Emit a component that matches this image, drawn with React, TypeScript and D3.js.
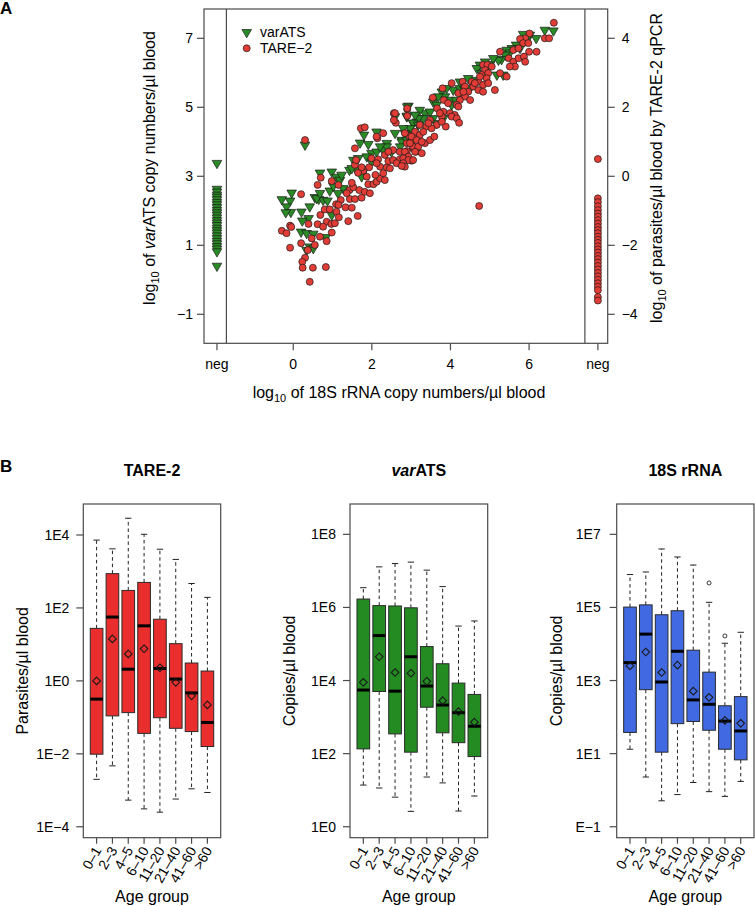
import React from "react";
import * as d3 from "d3";

// ---------- Panel A data (log10 values) ----------
// varATS points: [log10 18S rRNA, log10 varATS copies]
const varATSPoints: [number, number][] = [
  [0.30, 3.91], [-0.29, 2.33], [-0.08, 2.29], [-0.04, 2.52], [-0.17, 2.12], [-0.06, 1.96], [-0.19, 1.95],
  [0.21, 1.97], [0.42, 2.12], [0.55, 2.39], [0.65, 2.34], [0.76, 2.31], [0.87, 2.29], [0.39, 1.78],
  [0.23, 1.71], [0.20, 1.39], [0.34, 1.35], [0.51, 1.33], [0.42, 0.96], [0.51, 0.91], [0.83, 1.23],
  [0.68, 3.10], [0.98, 3.13], [0.93, 2.58], [1.10, 2.98], [1.19, 2.89], [1.27, 2.65], [1.14, 2.51],
  [0.98, 1.88], [1.43, 3.18], [1.53, 3.47], [1.61, 3.18], [1.74, 2.99], [1.82, 3.20], [1.70, 3.97],
  [1.91, 3.93], [1.80, 4.20], [2.12, 4.29], [2.38, 3.96], [1.99, 3.67], [2.12, 3.71], [2.29, 3.76],
  [2.38, 3.86], [2.59, 4.25], [2.76, 4.05], [2.89, 4.73], [2.93, 5.04], [2.59, 4.73], [3.05, 4.54],
  [3.14, 4.58], [2.50, 3.71], [1.87, 3.57], [0.60, 2.36], [0.34, 0.86],
  [2.21, 3.86], [1.99, 3.42], [1.65, 3.52], [1.49, 3.23], [1.23, 3.04], [1.02, 2.72], [0.68, 2.51],
  [6.40, 7.24], [6.62, 7.22], [6.18, 7.00], [6.02, 7.10], [5.85, 7.12], [5.94, 6.97], [5.67, 6.81],
  [5.56, 6.71], [5.43, 6.66], [5.51, 6.58], [5.39, 6.52], [5.30, 6.39], [5.22, 6.37], [5.77, 6.71],
  [5.01, 6.25], [4.75, 6.23], [4.67, 6.13], [4.92, 6.18], [4.79, 5.99], [5.18, 5.94], [5.34, 5.94],
  [4.58, 5.79], [4.45, 5.84], [4.07, 5.50], [4.24, 5.55], [4.37, 5.50], [4.50, 5.55], [4.28, 5.36],
  [3.78, 5.45], [3.86, 5.31], [3.99, 5.21], [4.14, 5.21], [3.56, 5.16], [3.65, 5.07], [4.03, 5.07],
  [2.90, 5.02], [2.89, 4.75], [3.35, 4.83], [3.48, 4.87], [3.31, 4.68], [3.56, 4.68], [3.82, 4.68],
  [3.18, 4.68], [3.05, 4.55], [3.18, 4.49], [2.97, 4.39], [2.84, 4.25], [2.95, 4.20], [2.76, 4.00],
  [2.89, 4.05], [2.72, 3.86], [3.65, 4.54],
  [4.24, 5.74], [3.90, 5.55], [3.69, 5.31], [3.22, 4.92], [3.10, 4.78], [2.80, 4.39], [4.88, 6.32],
  [5.09, 6.42],
];
// varATS positive, 18S negative (left "neg" column)
const varATSNeg: number[] = [
  3.38, 2.63, 2.55, 2.46, 2.40, 2.33, 2.25, 2.18, 2.10, 2.02, 1.95, 1.88, 1.80, 1.72, 1.65, 1.58,
  1.50, 1.43, 1.36, 1.28, 1.20, 1.12, 1.05, 0.97, 0.90, 0.82, 0.40,
];
// TARE-2 points: [log10 18S rRNA, log10 parasites/µl]
const tare2Points: [number, number][] = [
  [0.30, 1.05], [-0.29, -1.58], [-0.17, -1.65], [-0.08, -1.43], [-0.05, -1.47], [-0.08, -2.07],
  [0.20, -0.52], [0.20, -1.94], [0.30, -2.36], [0.23, -2.48], [0.24, -2.65], [0.50, -2.65],
  [0.83, -2.63], [0.42, -3.06], [0.37, -2.14], [0.47, -1.80], [0.55, -1.99], [0.39, -1.38],
  [0.62, -1.39], [0.68, -1.75], [0.85, -1.88], [0.98, -1.63], [0.69, -1.12], [0.80, -0.96],
  [0.93, -0.96], [0.85, -1.32], [0.97, -1.38], [1.06, -1.36], [1.10, -1.03], [1.09, -0.81],
  [1.21, -0.69], [1.16, -1.19], [1.40, -1.30], [1.64, -1.15], [1.33, -0.90], [1.49, -0.91],
  [0.62, -0.25], [0.70, -0.04], [0.98, -0.14], [1.15, -0.25], [1.44, -0.66], [1.57, -0.66],
  [1.74, -0.62], [1.43, -0.40], [1.53, -0.32], [1.68, -0.40], [1.82, -0.45], [1.95, -0.49],
  [1.91, -0.23], [2.04, -0.23], [2.12, -0.16], [2.21, -0.06], [2.33, -0.11], [2.09, 0.04],
  [2.29, 0.09], [2.21, 0.28], [2.38, 0.26], [2.46, 0.23], [1.78, 0.16], [1.65, 0.10], [1.57, 0.33],
  [1.74, 0.26], [1.93, 0.26], [1.99, 0.52], [2.16, 0.49], [2.33, 0.62], [2.42, 0.44], [2.54, 0.47],
  [2.71, 0.49], [2.63, 0.38], [2.80, 0.33], [2.93, 0.52], [3.01, 0.45], [2.54, 0.76], [2.71, 0.71],
  [2.89, 0.73], [3.05, 0.81], [3.12, 0.71], [3.01, 1.00], [3.14, 1.13], [2.95, 1.17], [2.84, 1.25],
  [2.56, 1.83], [2.61, 1.55], [2.90, 1.94], [1.72, 1.39], [1.82, 1.42], [2.14, 1.10], [1.57, 0.81],
  [1.60, 0.47], [1.49, -0.19],
  [2.89, 0.96], [2.42, 0.71], [2.12, 0.38], [1.87, -0.01], [1.36, -0.49], [1.15, -0.83], [0.76, -1.46],
  [6.63, 4.45], [6.40, 4.00], [6.51, 4.00], [6.01, 4.14], [5.90, 4.00], [5.77, 3.98], [5.85, 3.86],
  [5.98, 3.86], [5.60, 3.66], [5.73, 3.71], [6.00, 3.61], [6.19, 3.61], [5.26, 3.61], [5.48, 3.42],
  [5.60, 3.32], [5.73, 3.42], [5.87, 3.47], [5.90, 3.32], [5.64, 3.18], [5.51, 3.18], [5.26, 2.99],
  [5.43, 2.89], [4.83, 3.23], [4.94, 3.23], [5.05, 3.18], [4.88, 3.08], [4.96, 2.99], [4.79, 2.94],
  [4.92, 2.84], [4.71, 2.74], [4.83, 2.65], [4.54, 2.74], [4.58, 2.60], [4.71, 2.50], [4.83, 2.45],
  [5.13, 2.50], [4.31, 2.74], [4.37, 2.60], [4.45, 2.45], [4.20, 2.41], [4.37, 2.31], [4.50, 2.21],
  [4.24, 2.21], [4.16, 2.07], [4.03, 2.70], [3.80, 2.55], [3.83, 2.21], [3.55, 2.28], [3.66, 1.97],
  [3.82, 1.87], [3.78, 1.73], [3.99, 1.83], [4.11, 1.78], [4.20, 2.02], [2.90, 1.97], [2.90, 1.75],
  [3.48, 1.63], [3.65, 1.49], [3.88, 1.44], [4.03, 1.73], [4.16, 1.68], [4.22, 1.55], [3.22, 1.49],
  [3.39, 1.44], [3.52, 1.39], [3.78, 1.58], [3.10, 1.29], [3.22, 1.20], [3.01, 1.15], [3.14, 1.05],
  [3.35, 0.96], [3.48, 1.05], [3.59, 1.15], [3.05, 0.86], [3.18, 0.86], [3.10, 0.71], [3.27, 0.67],
  [2.84, 0.71], [2.93, 0.57], [2.80, 0.52], [2.93, 0.47], [3.05, 0.47], [2.80, 0.38], [2.84, 0.28],
  [2.76, 0.30], [2.12, 1.15], [2.29, 1.25], [2.59, 1.83], [2.56, 1.63], [4.73, -0.86],
  [4.75, 2.89], [4.62, 2.70], [4.96, 2.70], [4.33, 2.45], [3.94, 2.12], [3.73, 1.83], [3.44, 1.54],
  [3.31, 1.29], [2.97, 0.96], [3.27, 1.00],
];
// TARE-2 positive, 18S negative (right "neg" column)
const tare2Neg: number[] = [
  0.50, -0.64, -0.75, -0.87, -0.98, -1.08, -1.17, -1.27, -1.37, -1.47, -1.56, -1.65, -1.75, -1.84,
  -1.93, -2.03, -2.12, -2.21, -2.31, -2.40, -2.50, -2.60, -2.70, -2.80, -2.90, -3.00, -3.10, -3.20,
  -3.30, -3.50, -3.60,
];
const xTicksA = [0, 2, 4, 6];
const yTicksLeftA = [-1, 1, 3, 5, 7];
const yTicksRightA = [-4, -2, 0, 2, 4];

// ---------- Panel B data (log10): [whiskerLow, Q1, median, Q3, whiskerHigh, mean] ----------
const ageGroups = ["0–1", "2–3", "4–5", "6–10", "11–20", "21–40", "41–60", ">60"];
const tare2Box: number[][] = [
  [-2.70, -2.01, -0.50, 1.44, 3.86, 0.00],
  [-2.33, -0.96, 1.75, 2.94, 3.62, 1.15],
  [-3.27, -0.87, 0.32, 2.48, 4.46, 0.74],
  [-3.51, -1.44, 1.51, 2.70, 4.02, 0.88],
  [-3.60, -1.01, 0.34, 1.69, 3.61, 0.36],
  [-3.24, -1.30, 0.05, 1.02, 3.33, -0.04],
  [-2.96, -1.39, -0.33, 0.49, 2.67, -0.41],
  [-3.06, -1.80, -1.14, 0.27, 2.29, -0.66],
];
const varATSBox: number[][] = [
  [1.14, 2.13, 3.74, 6.23, 6.54, 3.95],
  [1.06, 3.70, 5.23, 6.05, 7.11, 4.65],
  [0.81, 2.54, 3.71, 6.04, 7.20, 4.22],
  [0.42, 2.04, 4.65, 5.99, 7.24, 4.20],
  [1.36, 3.27, 3.85, 4.93, 7.02, 3.98],
  [1.20, 2.57, 3.33, 4.46, 6.57, 3.45],
  [0.43, 2.30, 3.12, 3.93, 5.49, 3.15],
  [0.84, 1.92, 2.75, 3.62, 5.63, 2.86],
];
const rRNABox: number[][] = [
  [1.12, 1.58, 3.49, 5.01, 5.90, 3.40],
  [0.36, 2.75, 4.27, 5.07, 5.97, 3.78],
  [-0.29, 1.04, 2.96, 4.80, 6.60, 3.22],
  [-0.12, 1.82, 3.80, 4.91, 6.38, 3.42],
  [0.21, 1.88, 2.47, 3.83, 6.16, 2.71],
  [-0.04, 1.64, 2.35, 3.23, 5.14, 2.54],
  [-0.17, 1.12, 1.89, 2.31, 4.02, 1.91],
  [0.24, 0.83, 1.62, 2.56, 4.32, 1.83],
];
const rRNAOutliers: [number, number][] = [[5, 5.67], [6, 4.22]];
const tare2Ticks = [4, 2, 0, -2, -4];
const tare2TickLabels = ["1E4", "1E2", "1E0", "1E−2", "1E−4"];
const varATSTicks = [8, 6, 4, 2, 0];
const varATSTickLabels = ["1E8", "1E6", "1E4", "1E2", "1E0"];
const rRNATicks = [7, 5, 3, 1, -1];
const rRNATickLabels = ["1E7", "1E5", "1E3", "1E1", "E−1"];

const FONT = "'Liberation Sans', Arial, Helvetica, sans-serif";
const RED_PT = "#e23c36";
const GREEN_PT = "#2a8a25";
const FRAME = "#4a4a4a";

function ScatterA() {
  const L = 204, R = 607.7, T = 9, B = 343.3;
  const x = d3.scaleLinear().domain([-2.27, 8.0]).range([L, R]);
  const yL = d3.scaleLinear().domain([-1.841, 7.849]).range([B, T]);
  const yR = d3.scaleLinear().domain([-4.841, 4.849]).range([B, T]);
  const negL = -1.94, negR = 7.75, sepL = -1.70, sepR = 7.42;
  const tri = d3.symbol().type(d3.symbolTriangle).size(40)()!;
  const circR = 3.5;
  return (
    <g fontFamily={FONT}>
      <text x={0} y={13.5} fontSize={17} fontWeight="bold">A</text>
      {/* varATS first */}
      {varATSPoints.map((d, i) => (
        <path key={"v" + i} d={tri} transform={`translate(${x(d[0])},${yL(d[1])}) rotate(180)`}
          fill={GREEN_PT} stroke="#1a1a1a" strokeWidth={0.7} />
      ))}
      {varATSNeg.map((v, i) => (
        <path key={"vn" + i} d={tri} transform={`translate(${x(negL)},${yL(v)}) rotate(180)`}
          fill={GREEN_PT} stroke="#1a1a1a" strokeWidth={0.7} />
      ))}
      {tare2Points.map((d, i) => (
        <circle key={"t" + i} cx={x(d[0])} cy={yR(d[1])} r={circR} fill={RED_PT} stroke="#1a1a1a" strokeWidth={0.7} />
      ))}
      {tare2Neg.map((v, i) => (
        <circle key={"tn" + i} cx={x(negR)} cy={yR(v)} r={circR} fill={RED_PT} stroke="#1a1a1a" strokeWidth={0.7} />
      ))}
      {/* frame */}
      <rect x={L} y={T} width={R - L} height={B - T} fill="none" stroke={FRAME} strokeWidth={1.2} />
      <line x1={x(sepL)} x2={x(sepL)} y1={T} y2={B} stroke={FRAME} strokeWidth={1.2} />
      <line x1={x(sepR)} x2={x(sepR)} y1={T} y2={B} stroke={FRAME} strokeWidth={1.2} />
      {/* legend */}
      <path d={tri} transform={`translate(246.7,32.3) rotate(180)`} fill={GREEN_PT} stroke="#1a1a1a" strokeWidth={0.7} />
      <text x={260} y={37.3} fontSize={14}>varATS</text>
      <circle cx={246.7} cy={48.3} r={circR} fill={RED_PT} stroke="#1a1a1a" strokeWidth={0.7} />
      <text x={260} y={53.3} fontSize={14}>TARE−2</text>
      {/* x axis */}
      {[negL, ...xTicksA, negR].map((t, i) => (
        <g key={"xt" + i}>
          <line x1={x(t)} x2={x(t)} y1={B} y2={B + 7} stroke={FRAME} strokeWidth={1.2} />
          <text x={x(t)} y={368.5} fontSize={14} textAnchor="middle">
            {i === 0 || i === xTicksA.length + 1 ? "neg" : String(t)}
          </text>
        </g>
      ))}
      <text x={399} y={398} fontSize={16} textAnchor="middle">
        log<tspan fontSize={11} dy={4}>10</tspan><tspan dy={-4}> of 18S rRNA copy numbers/µl blood</tspan>
      </text>
      {/* left axis */}
      {yTicksLeftA.map((t) => (
        <g key={"yl" + t}>
          <line x1={L - 7} x2={L} y1={yL(t)} y2={yL(t)} stroke={FRAME} strokeWidth={1.2} />
          <text x={L - 11} y={yL(t)} dy="0.36em" fontSize={14} textAnchor="end">{t < 0 ? "−" + Math.abs(t) : t}</text>
        </g>
      ))}
      <text transform={`translate(155,168) rotate(-90)`} fontSize={16} textAnchor="middle">
        log<tspan fontSize={11} dy={4}>10</tspan><tspan dy={-4}> of </tspan><tspan fontStyle="italic">var</tspan>ATS copy numbers/µl blood
      </text>
      {/* right axis */}
      {yTicksRightA.map((t) => (
        <g key={"yr" + t}>
          <line x1={R} x2={R + 7} y1={yR(t)} y2={yR(t)} stroke={FRAME} strokeWidth={1.2} />
          <text x={R + 14} y={yR(t)} dy="0.36em" fontSize={14} textAnchor="start">{t < 0 ? "−" + Math.abs(t) : t}</text>
        </g>
      ))}
      <text transform={`translate(661.5,168) rotate(-90)`} fontSize={16} textAnchor="middle">
        log<tspan fontSize={11} dy={4}>10</tspan><tspan dy={-4}> of parasites/µl blood by TARE-2 qPCR</tspan>
      </text>
    </g>
  );
}

type BoxProps = {
  left: number; right: number; domain: [number, number];
  rows: number[][]; color: string; ticks: number[]; tickLabels: string[];
  title: React.ReactNode; ylabel: string; outliers?: [number, number][]; labelOffset: number;
};

function BoxPanel(p: BoxProps) {
  const T = 504, B = 837.7;
  const x = d3.scaleLinear().domain([0.16, 8.84]).range([p.left, p.right]);
  const y = d3.scaleLinear().domain(p.domain).range([B, T]);
  const unit = x(1) - x(0);
  const hw = 0.4 * unit;
  const sw = 0.2 * unit;
  const cx = (p.left + p.right) / 2;
  return (
    <g fontFamily={FONT}>
      <text x={cx} y={476} fontSize={16} fontWeight="bold" textAnchor="middle">{p.title}</text>
      {p.rows.map((r, i) => {
        const xc = x(i + 1);
        const [lo, q1, med, q3, hi, mean] = r;
        const m = 3.8;
        return (
          <g key={i}>
            <line x1={xc} x2={xc} y1={y(q3)} y2={y(hi)} stroke="#222" strokeDasharray="3.5,3" strokeWidth={1} />
            <line x1={xc} x2={xc} y1={y(q1)} y2={y(lo)} stroke="#222" strokeDasharray="3.5,3" strokeWidth={1} />
            <line x1={xc - sw} x2={xc + sw} y1={y(hi)} y2={y(hi)} stroke="#222" strokeWidth={1} />
            <line x1={xc - sw} x2={xc + sw} y1={y(lo)} y2={y(lo)} stroke="#222" strokeWidth={1} />
            <rect x={xc - hw} y={y(q3)} width={2 * hw} height={y(q1) - y(q3)} fill={p.color} stroke="#2a2a2a" strokeWidth={1} />
            <line x1={xc - hw} x2={xc + hw} y1={y(med)} y2={y(med)} stroke="#000" strokeWidth={3} />
            <path d={`M${xc},${y(mean) - m}L${xc + m},${y(mean)}L${xc},${y(mean) + m}L${xc - m},${y(mean)}Z`}
              fill="none" stroke="#1a1a1a" strokeWidth={1.1} />
          </g>
        );
      })}
      {(p.outliers || []).map((o, i) => (
        <circle key={"o" + i} cx={x(o[0] + 1)} cy={y(o[1])} r={2} fill="none" stroke="#222" strokeWidth={0.9} />
      ))}
      <rect x={p.left} y={T} width={p.right - p.left} height={B - T} fill="none" stroke={FRAME} strokeWidth={1.2} />
      {p.ticks.map((t, i) => (
        <g key={"t" + i}>
          <line x1={p.left - 7} x2={p.left} y1={y(t)} y2={y(t)} stroke={FRAME} strokeWidth={1.2} />
          <text x={p.left - p.labelOffset} y={y(t)} dy="0.36em" fontSize={14} textAnchor="end">{p.tickLabels[i]}</text>
        </g>
      ))}
      {ageGroups.map((g, i) => {
        const xc = x(i + 1);
        return (
          <g key={"a" + i}>
            <line x1={xc} x2={xc} y1={B} y2={B + 6} stroke={FRAME} strokeWidth={1.2} />
            <text x={xc + 1} y={B + 10} dy="0.36em" fontSize={14} textAnchor="end"
              transform={`rotate(-60,${xc + 1},${B + 10})`}>{g}</text>
          </g>
        );
      })}
      <text x={cx} y={901.5} fontSize={16} textAnchor="middle">Age group</text>
      <text transform={`translate(${p.left - 55},${(T + B) / 2}) rotate(-90)`} fontSize={16} textAnchor="middle">{p.ylabel}</text>
    </g>
  );
}

export default function App() {
  return (
    <svg width={755} height={906} style={{ position: "absolute", left: 0, top: 0, background: "#fff" }}>
      <rect width={755} height={906} fill="#fff" />
      <ScatterA />
      <text x={0} y={472} fontSize={17} fontWeight="bold" fontFamily={FONT}>B</text>
      <BoxPanel left={83.3} right={220.7} domain={[-4.30, 4.85]} rows={tare2Box} color="#ea2d2d"
        ticks={tare2Ticks} tickLabels={tare2TickLabels} title="TARE-2" ylabel="Parasites/µl blood" labelOffset={14} />
      <BoxPanel left={350} right={487.7} domain={[-0.30, 8.83]} rows={varATSBox} color="#238b22"
        ticks={varATSTicks} tickLabels={varATSTickLabels}
        title={<><tspan fontStyle="italic">var</tspan>ATS</>} ylabel="Copies/µl blood" labelOffset={14} />
      <BoxPanel left={616.7} right={754} domain={[-1.30, 7.83]} rows={rRNABox} color="#4169e1"
        ticks={rRNATicks} tickLabels={rRNATickLabels} title="18S rRNA" ylabel="Copies/µl blood"
        outliers={rRNAOutliers} labelOffset={16} />
    </svg>
  );
}
